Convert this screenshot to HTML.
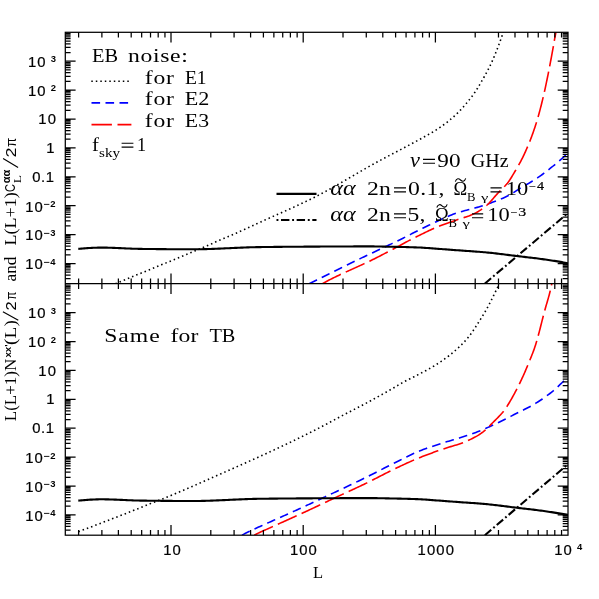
<!DOCTYPE html>
<html><head><meta charset="utf-8"><title>plot</title>
<style>html,body{margin:0;padding:0;background:#fff}svg{display:block}text{font-family:"Liberation Serif",serif;fill:#000}.s{font-family:"Liberation Sans",sans-serif}.tk{stroke:#000;stroke-width:0.22px}</style></head><body>
<svg width="599" height="599" viewBox="0 0 599 599">
<rect width="599" height="599" fill="#fff"/>
<defs><clipPath id="cu"><rect x="65.3" y="32.3" width="502.7" height="251.4"/></clipPath><clipPath id="cl"><rect x="65.3" y="283.7" width="502.7" height="251.5"/></clipPath></defs>
<g fill="none" stroke-linejoin="round" clip-path="url(#cu)">
<path d="M115.40 283.70L116.79 283.12L118.18 282.54L119.57 281.96L120.96 281.39L122.35 280.81L123.74 280.24L125.13 279.67L126.52 279.09L127.91 278.52L129.31 277.95L130.70 277.38L132.09 276.81L133.48 276.24L134.88 275.67L136.27 275.10L137.66 274.53L139.06 273.96L140.45 273.40L141.84 272.83L143.24 272.26L144.63 271.69L146.02 271.12L147.42 270.55L148.81 269.98L150.20 269.41L151.59 268.84L152.99 268.27L154.38 267.70L155.77 267.12L157.16 266.55L158.55 265.98L159.95 265.41L161.34 264.84L162.73 264.26L164.12 263.69L165.51 263.12L166.91 262.55L168.30 261.98L169.69 261.41L171.08 260.84L172.47 260.26L173.87 259.69L175.26 259.12L176.65 258.54L178.04 257.97L179.43 257.40L180.82 256.82L182.21 256.25L183.60 255.67L184.99 255.09L186.38 254.52L187.77 253.94L189.16 253.36L190.55 252.78L191.94 252.20L193.32 251.62L194.71 251.03L196.10 250.45L197.49 249.86L198.87 249.28L200.26 248.69L201.64 248.10L203.03 247.51L204.41 246.92L205.79 246.33L207.17 245.73L208.55 245.13L209.93 244.52L211.31 243.91L212.68 243.29L214.05 242.67L215.42 242.04L216.79 241.42L218.16 240.80L219.53 240.19L220.91 239.59L222.30 238.99L223.68 238.41L225.07 237.82L226.46 237.24L227.85 236.66L229.23 236.08L230.62 235.50L232.01 234.92L233.40 234.34L234.78 233.75L236.16 233.15L237.54 232.54L238.92 231.93L240.29 231.32L241.66 230.71L243.03 230.09L244.40 229.46L245.77 228.84L247.14 228.21L248.51 227.58L249.88 226.95L251.24 226.32L252.61 225.69L253.97 225.06L255.34 224.43L256.71 223.80L258.07 223.17L259.44 222.54L260.81 221.91L262.18 221.28L263.55 220.66L264.92 220.04L266.29 219.42L267.66 218.80L269.04 218.19L270.41 217.58L271.79 216.97L273.16 216.36L274.54 215.75L275.91 215.14L277.29 214.53L278.67 213.92L280.04 213.31L281.42 212.70L282.79 212.09L284.17 211.48L285.54 210.87L286.92 210.25L288.29 209.64L289.66 209.02L291.03 208.39L292.40 207.77L293.77 207.14L295.13 206.51L296.50 205.87L297.86 205.24L299.23 204.60L300.59 203.97L301.95 203.33L303.32 202.69L304.68 202.04L306.04 201.40L307.39 200.75L308.75 200.09L310.10 199.43L311.45 198.77L312.80 198.10L314.15 197.43L315.49 196.75L316.83 196.07L318.16 195.38L319.50 194.68L320.83 193.98L322.16 193.27L323.48 192.56L324.81 191.84L326.13 191.12L327.45 190.40L328.77 189.68L330.09 188.95L331.40 188.22L332.72 187.49L334.03 186.74L335.33 186.00L336.64 185.25L337.94 184.50L339.25 183.75L340.55 182.99L341.85 182.24L343.15 181.48L344.45 180.72L345.75 179.97L347.05 179.21L348.36 178.46L349.66 177.71L350.97 176.96L352.27 176.20L353.57 175.45L354.87 174.69L356.17 173.94L357.47 173.18L358.77 172.42L360.08 171.66L361.38 170.91L362.68 170.15L363.98 169.40L365.29 168.65L366.59 167.90L367.90 167.15L369.20 166.41L370.51 165.67L371.83 164.93L373.14 164.20L374.46 163.47L375.78 162.75L377.10 162.03L378.42 161.31L379.74 160.60L381.07 159.88L382.40 159.18L383.72 158.47L385.05 157.77L386.38 157.06L387.72 156.36L389.05 155.66L390.38 154.96L391.72 154.26L393.05 153.57L394.38 152.87L395.72 152.17L397.05 151.47L398.38 150.78L399.72 150.08L401.05 149.38L402.38 148.68L403.71 147.98L405.04 147.27L406.37 146.57L407.70 145.86L409.03 145.15L410.35 144.43L411.68 143.72L413.01 143.01L414.33 142.30L415.66 141.58L416.98 140.87L418.30 140.15L419.62 139.42L420.93 138.69L422.25 137.96L423.57 137.23L424.89 136.51L426.21 135.78L427.54 135.05L428.85 134.32L430.17 133.57L431.47 132.82L432.77 132.06L434.05 131.28L435.33 130.49L436.58 129.68L437.83 128.85L439.07 128.01L440.32 127.15L441.55 126.29L442.79 125.41L444.01 124.52L445.23 123.61L446.44 122.69L447.63 121.77L448.82 120.83L449.99 119.87L451.14 118.91L452.29 117.93L453.41 116.94L454.51 115.94L455.60 114.93L456.67 113.90L457.74 112.86L458.80 111.79L459.85 110.71L460.89 109.62L461.92 108.52L462.94 107.40L463.95 106.27L464.95 105.12L465.94 103.97L466.91 102.81L467.88 101.64L468.83 100.46L469.76 99.27L470.69 98.08L471.60 96.88L472.49 95.68L473.38 94.47L474.24 93.26L475.09 92.02L475.92 90.77L476.73 89.51L477.53 88.23L478.32 86.94L479.10 85.65L479.87 84.35L480.63 83.04L481.38 81.73L482.13 80.42L482.87 79.12L483.62 77.81L484.36 76.50L485.09 75.18L485.82 73.86L486.54 72.54L487.25 71.21L487.96 69.88L488.65 68.54L489.34 67.20L490.01 65.85L490.67 64.50L491.31 63.15L491.94 61.79L492.56 60.42L493.16 59.04L493.75 57.66L494.33 56.27L494.91 54.88L495.47 53.48L496.03 52.08L496.58 50.68L497.12 49.27L497.66 47.86L498.19 46.46L498.73 45.05L499.26 43.64L499.78 42.23L500.30 40.82L500.81 39.40L501.31 37.98L501.81 36.56L502.31 35.14L502.81 33.72L503.30 32.30" stroke="#000" stroke-width="1.6" stroke-dasharray="1.5 3.0"/>
<path d="M309.20 283.70L310.71 282.94L312.23 282.19L313.74 281.44L315.25 280.68L316.77 279.93L318.28 279.18L319.79 278.42L321.31 277.67L322.82 276.92L324.33 276.17L325.85 275.42L327.36 274.67L328.87 273.92L330.39 273.17L331.90 272.42L333.42 271.67L334.93 270.92L336.44 270.17L337.96 269.43L339.47 268.68L340.98 267.94L342.50 267.19L344.01 266.45L345.52 265.71L347.04 264.97L348.55 264.23L350.06 263.49L351.58 262.75L353.09 262.02L354.60 261.28L356.12 260.55L357.63 259.82L359.14 259.09L360.66 258.37L362.17 257.65L363.68 256.93L365.20 256.22L366.71 255.50L368.22 254.79L369.74 254.08L371.25 253.37L372.76 252.66L374.28 251.95L375.79 251.24L377.31 250.53L378.82 249.82L380.33 249.11L381.85 248.40L383.36 247.69L384.87 246.98L386.39 246.26L387.90 245.54L389.41 244.82L390.93 244.10L392.44 243.38L393.95 242.65L395.47 241.92L396.98 241.18L398.49 240.44L400.01 239.70L401.52 238.94L403.03 238.18L404.55 237.41L406.06 236.64L407.57 235.87L409.09 235.11L410.60 234.34L412.11 233.58L413.63 232.81L415.14 232.04L416.65 231.27L418.17 230.50L419.68 229.74L421.20 228.98L422.71 228.22L424.22 227.48L425.74 226.74L427.25 226.02L428.76 225.30L430.28 224.58L431.79 223.85L433.30 223.12L434.82 222.39L436.33 221.67L437.84 220.95L439.36 220.23L440.87 219.52L442.38 218.82L443.90 218.14L445.41 217.46L446.92 216.81L448.44 216.17L449.95 215.54L451.46 214.94L452.98 214.37L454.49 213.81L456.00 213.29L457.52 212.79L459.03 212.31L460.55 211.86L462.06 211.42L463.57 211.00L465.09 210.58L466.60 210.18L468.11 209.78L469.63 209.39L471.14 208.99L472.65 208.60L474.17 208.19L475.68 207.78L477.19 207.36L478.71 206.92L480.22 206.46L481.73 205.98L483.25 205.49L484.76 204.98L486.27 204.47L487.79 203.95L489.30 203.43L490.81 202.90L492.33 202.35L493.84 201.80L495.35 201.23L496.87 200.65L498.38 200.05L499.89 199.43L501.41 198.80L502.92 198.15L504.44 197.47L505.95 196.78L507.46 196.06L508.98 195.31L510.49 194.48L512.00 193.57L513.52 192.61L515.03 191.62L516.54 190.62L518.06 189.63L519.57 188.66L521.08 187.75L522.60 186.85L524.11 185.96L525.62 185.09L527.14 184.22L528.65 183.34L530.16 182.46L531.68 181.56L533.19 180.64L534.70 179.70L536.22 178.72L537.73 177.70L539.24 176.66L540.76 175.59L542.27 174.49L543.78 173.36L545.30 172.22L546.81 171.06L548.33 169.88L549.84 168.68L551.35 167.47L552.87 166.25L554.38 165.02L555.89 163.75L557.41 162.47L558.92 161.15L560.43 159.82L561.95 158.48L563.46 157.12L564.97 155.76L566.49 154.39L568.00 153.00" stroke="#0000ff" stroke-width="1.6" stroke-dasharray="8.7 5.3"/>
<path d="M322.50 283.70L323.79 282.92L325.11 282.19L326.43 281.48L327.76 280.77L329.09 280.08L330.43 279.39L331.77 278.71L333.12 278.04L334.47 277.37L335.83 276.71L337.19 276.06L338.55 275.41L339.91 274.77L341.28 274.13L342.65 273.49L344.02 272.86L345.39 272.24L346.77 271.61L348.14 270.99L349.52 270.36L350.90 269.74L352.27 269.12L353.65 268.50L355.03 267.88L356.41 267.26L357.78 266.64L359.16 266.02L360.54 265.39L361.91 264.76L363.28 264.13L364.65 263.50L366.02 262.86L367.39 262.22L368.75 261.57L370.11 260.91L371.46 260.26L372.82 259.59L374.17 258.92L375.51 258.24L376.86 257.56L378.20 256.87L379.54 256.18L380.88 255.49L382.22 254.80L383.56 254.10L384.90 253.40L386.23 252.70L387.57 252.00L388.90 251.30L390.23 250.59L391.57 249.88L392.90 249.18L394.23 248.47L395.56 247.76L396.89 247.05L398.23 246.34L399.56 245.64L400.89 244.93L402.22 244.21L403.54 243.49L404.87 242.77L406.19 242.05L407.52 241.34L408.85 240.63L410.19 239.94L411.53 239.24L412.88 238.56L414.22 237.88L415.57 237.20L416.92 236.53L418.27 235.86L419.63 235.20L420.98 234.53L422.34 233.87L423.69 233.20L425.05 232.54L426.41 231.88L427.77 231.22L429.13 230.58L430.50 229.94L431.87 229.31L433.24 228.69L434.62 228.08L436.00 227.49L437.39 226.91L438.79 226.35L440.19 225.80L441.60 225.26L443.01 224.73L444.43 224.21L445.85 223.69L447.27 223.18L448.69 222.68L450.11 222.17L451.53 221.67L452.96 221.16L454.38 220.66L455.80 220.15L457.23 219.66L458.68 219.19L460.13 218.73L461.58 218.28L463.03 217.83L464.48 217.37L465.93 216.90L467.36 216.43L468.78 215.93L470.18 215.40L471.57 214.85L472.93 214.26L474.27 213.63L475.60 212.95L476.93 212.23L478.24 211.46L479.54 210.65L480.82 209.81L482.08 208.94L483.31 208.05L484.51 207.14L485.68 206.21L486.82 205.26L487.91 204.26L488.98 203.22L490.01 202.13L491.03 201.01L492.03 199.87L493.02 198.71L494.01 197.55L495.00 196.39L496.00 195.24L497.01 194.12L498.04 193.01L499.09 191.93L500.16 190.85L501.23 189.77L502.30 188.70L503.37 187.62L504.42 186.53L505.45 185.43L506.45 184.30L507.41 183.16L508.33 181.99L509.21 180.78L510.05 179.54L510.86 178.27L511.65 176.98L512.43 175.67L513.20 174.36L513.96 173.06L514.74 171.77L515.51 170.47L516.29 169.18L517.06 167.88L517.82 166.57L518.57 165.26L519.31 163.95L520.03 162.63L520.74 161.30L521.43 159.96L522.11 158.62L522.78 157.27L523.44 155.91L524.09 154.54L524.73 153.18L525.35 151.80L525.97 150.43L526.58 149.05L527.19 147.66L527.78 146.28L528.36 144.89L528.94 143.50L529.51 142.10L530.06 140.69L530.61 139.29L531.15 137.88L531.68 136.47L532.20 135.05L532.71 133.63L533.22 132.21L533.71 130.79L534.21 129.36L534.69 127.93L535.17 126.50L535.63 125.06L536.09 123.63L536.54 122.19L536.98 120.74L537.41 119.30L537.83 117.85L538.24 116.40L538.65 114.95L539.05 113.50L539.45 112.04L539.84 110.59L540.22 109.13L540.60 107.67L540.98 106.20L541.35 104.74L541.71 103.28L542.07 101.81L542.43 100.35L542.78 98.88L543.13 97.41L543.48 95.95L543.82 94.48L544.15 93.01L544.48 91.54L544.81 90.06L545.13 88.59L545.45 87.12L545.77 85.64L546.08 84.16L546.39 82.69L546.69 81.21L547.00 79.73L547.30 78.25L547.60 76.78L547.90 75.30L548.20 73.82L548.49 72.34L548.78 70.86L549.07 69.38L549.36 67.90L549.65 66.42L549.93 64.94L550.21 63.46L550.49 61.97L550.76 60.49L551.04 59.01L551.32 57.53L551.59 56.04L551.86 54.56L552.13 53.08L552.41 51.59L552.68 50.11L552.95 48.63L553.22 47.14L553.48 45.66L553.74 44.17L554.00 42.68L554.26 41.20L554.52 39.71L554.79 38.23L555.06 36.74L555.33 35.26L555.61 33.78L555.90 32.30" stroke="#ff0000" stroke-width="1.6" stroke-dasharray="20.6 5.4"/>
<path d="M484.70 283.70L568.00 213.00" stroke="#000" stroke-width="2.1" stroke-dasharray="8.4 2.75 1.8 2.7"/>
<path d="M78.30 248.90L79.81 248.77L81.31 248.64L82.82 248.51L84.33 248.39L85.83 248.28L87.34 248.17L88.85 248.06L90.35 247.97L91.86 247.88L93.37 247.81L94.87 247.74L96.38 247.69L97.89 247.65L99.39 247.62L100.90 247.60L102.41 247.60L103.92 247.61L105.42 247.63L106.93 247.66L108.44 247.69L109.94 247.73L111.45 247.78L112.96 247.83L114.46 247.89L115.97 247.95L117.48 248.01L118.98 248.08L120.49 248.15L122.00 248.22L123.50 248.29L125.01 248.36L126.52 248.43L128.02 248.49L129.53 248.56L131.04 248.62L132.54 248.68L134.05 248.73L135.56 248.78L137.06 248.82L138.57 248.86L140.08 248.89L141.58 248.91L143.09 248.93L144.60 248.95L146.10 248.96L147.61 248.98L149.12 249.00L150.62 249.02L152.13 249.04L153.64 249.05L155.15 249.07L156.65 249.09L158.16 249.10L159.67 249.12L161.17 249.13L162.68 249.15L164.19 249.16L165.69 249.17L167.20 249.19L168.71 249.20L170.21 249.21L171.72 249.22L173.23 249.23L174.73 249.24L176.24 249.25L177.75 249.26L179.25 249.27L180.76 249.27L182.27 249.28L183.77 249.28L185.28 249.29L186.79 249.29L188.29 249.30L189.80 249.30L191.31 249.30L192.81 249.30L194.32 249.30L195.83 249.29L197.33 249.28L198.84 249.26L200.35 249.23L201.86 249.21L203.36 249.17L204.87 249.14L206.38 249.10L207.88 249.05L209.39 249.00L210.90 248.95L212.40 248.90L213.91 248.84L215.42 248.78L216.92 248.72L218.43 248.66L219.94 248.59L221.44 248.53L222.95 248.46L224.46 248.39L225.96 248.32L227.47 248.25L228.98 248.18L230.48 248.11L231.99 248.04L233.50 247.97L235.00 247.90L236.51 247.83L238.02 247.77L239.52 247.70L241.03 247.64L242.54 247.58L244.04 247.52L245.55 247.46L247.06 247.41L248.56 247.35L250.07 247.31L251.58 247.26L253.09 247.22L254.59 247.18L256.10 247.15L257.61 247.12L259.11 247.10L260.62 247.08L262.13 247.06L263.63 247.04L265.14 247.02L266.65 247.00L268.15 246.98L269.66 246.96L271.17 246.94L272.67 246.93L274.18 246.91L275.69 246.90L277.19 246.88L278.70 246.87L280.21 246.85L281.71 246.84L283.22 246.82L284.73 246.81L286.23 246.80L287.74 246.79L289.25 246.77L290.75 246.76L292.26 246.75L293.77 246.74L295.27 246.73L296.78 246.72L298.29 246.71L299.80 246.70L301.30 246.69L302.81 246.68L304.32 246.67L305.82 246.66L307.33 246.65L308.84 246.65L310.34 246.64L311.85 246.63L313.36 246.62L314.86 246.61L316.37 246.60L317.88 246.59L319.38 246.58L320.89 246.57L322.40 246.56L323.90 246.56L325.41 246.55L326.92 246.54L328.42 246.53L329.93 246.52L331.44 246.51L332.94 246.51L334.45 246.50L335.96 246.49L337.46 246.48L338.97 246.48L340.48 246.47L341.98 246.46L343.49 246.46L345.00 246.45L346.50 246.45L348.01 246.44L349.52 246.44L351.03 246.43L352.53 246.43L354.04 246.42L355.55 246.42L357.05 246.41L358.56 246.41L360.07 246.41L361.57 246.41L363.08 246.40L364.59 246.40L366.09 246.40L367.60 246.40L369.11 246.40L370.61 246.40L372.12 246.41L373.63 246.42L375.13 246.44L376.64 246.46L378.15 246.49L379.65 246.52L381.16 246.55L382.67 246.58L384.17 246.62L385.68 246.65L387.19 246.68L388.69 246.71L390.20 246.74L391.71 246.77L393.21 246.80L394.72 246.83L396.23 246.86L397.74 246.90L399.24 246.93L400.75 246.96L402.26 246.99L403.76 247.03L405.27 247.07L406.78 247.11L408.28 247.15L409.79 247.19L411.30 247.23L412.80 247.28L414.31 247.33L415.82 247.38L417.32 247.44L418.83 247.49L420.34 247.56L421.84 247.64L423.35 247.73L424.86 247.83L426.36 247.94L427.87 248.05L429.38 248.17L430.88 248.29L432.39 248.40L433.90 248.52L435.40 248.63L436.91 248.74L438.42 248.85L439.92 248.96L441.43 249.07L442.94 249.19L444.44 249.30L445.95 249.42L447.46 249.53L448.97 249.65L450.47 249.76L451.98 249.87L453.49 249.99L454.99 250.10L456.50 250.21L458.01 250.32L459.51 250.42L461.02 250.53L462.53 250.63L464.03 250.73L465.54 250.84L467.05 250.94L468.55 251.04L470.06 251.15L471.57 251.25L473.07 251.36L474.58 251.46L476.09 251.58L477.59 251.69L479.10 251.81L480.61 251.93L482.11 252.05L483.62 252.18L485.13 252.31L486.63 252.45L488.14 252.60L489.65 252.75L491.15 252.91L492.66 253.07L494.17 253.24L495.68 253.41L497.18 253.59L498.69 253.77L500.20 253.96L501.70 254.14L503.21 254.33L504.72 254.52L506.22 254.71L507.73 254.90L509.24 255.09L510.74 255.28L512.25 255.47L513.76 255.66L515.26 255.85L516.77 256.03L518.28 256.21L519.78 256.39L521.29 256.57L522.80 256.74L524.30 256.91L525.81 257.09L527.32 257.26L528.82 257.43L530.33 257.60L531.84 257.78L533.34 257.96L534.85 258.14L536.36 258.33L537.86 258.52L539.37 258.72L540.88 258.92L542.38 259.13L543.89 259.34L545.40 259.55L546.91 259.77L548.41 259.99L549.92 260.22L551.43 260.45L552.93 260.68L554.44 260.91L555.95 261.15L557.45 261.40L558.96 261.64L560.47 261.90L561.97 262.15L563.48 262.41L564.99 262.67L566.49 262.93L568.00 263.20" stroke="#000" stroke-width="2.1"/>
</g>
<g fill="none" stroke-linejoin="round" clip-path="url(#cl)">
<path d="M78.40 531.70L79.81 531.17L81.22 530.64L82.63 530.11L84.03 529.57L85.44 529.04L86.85 528.51L88.26 527.98L89.66 527.44L91.07 526.91L92.48 526.38L93.89 525.84L95.29 525.31L96.70 524.77L98.11 524.24L99.51 523.70L100.92 523.17L102.33 522.63L103.73 522.09L105.14 521.55L106.54 521.01L107.95 520.47L109.35 519.93L110.76 519.39L112.16 518.85L113.56 518.30L114.97 517.76L116.37 517.22L117.77 516.67L119.18 516.12L120.58 515.57L121.98 515.02L123.38 514.47L124.78 513.92L126.18 513.36L127.58 512.81L128.97 512.25L130.37 511.69L131.77 511.13L133.17 510.57L134.56 510.01L135.96 509.45L137.36 508.89L138.75 508.32L140.15 507.76L141.54 507.20L142.94 506.64L144.34 506.08L145.73 505.52L147.13 504.96L148.53 504.40L149.93 503.84L151.33 503.28L152.72 502.73L154.12 502.17L155.53 501.62L156.93 501.08L158.33 500.53L159.73 499.99L161.14 499.44L162.54 498.90L163.94 498.35L165.34 497.79L166.74 497.23L168.13 496.67L169.52 496.10L170.92 495.53L172.31 494.95L173.70 494.37L175.08 493.79L176.47 493.21L177.86 492.63L179.24 492.04L180.63 491.45L182.01 490.86L183.40 490.27L184.78 489.67L186.16 489.08L187.54 488.48L188.93 487.88L190.31 487.28L191.69 486.68L193.07 486.08L194.45 485.48L195.82 484.87L197.20 484.27L198.58 483.66L199.96 483.06L201.34 482.45L202.71 481.84L204.09 481.23L205.47 480.62L206.85 480.01L208.22 479.41L209.60 478.80L210.98 478.19L212.35 477.58L213.73 476.97L215.11 476.36L216.48 475.75L217.86 475.14L219.24 474.54L220.61 473.93L221.99 473.32L223.37 472.72L224.75 472.11L226.12 471.50L227.50 470.89L228.88 470.28L230.25 469.68L231.63 469.07L233.01 468.46L234.38 467.85L235.76 467.24L237.14 466.63L238.51 466.02L239.89 465.41L241.26 464.79L242.64 464.18L244.01 463.57L245.39 462.96L246.76 462.34L248.13 461.73L249.51 461.11L250.88 460.49L252.25 459.88L253.63 459.26L255.00 458.64L256.37 458.02L257.74 457.40L259.11 456.78L260.48 456.16L261.85 455.53L263.22 454.91L264.59 454.28L265.96 453.66L267.33 453.03L268.70 452.40L270.06 451.77L271.43 451.14L272.79 450.51L274.16 449.88L275.53 449.24L276.89 448.61L278.25 447.97L279.62 447.33L280.98 446.69L282.34 446.05L283.70 445.41L285.06 444.76L286.42 444.12L287.78 443.47L289.14 442.82L290.50 442.17L291.85 441.52L293.21 440.87L294.56 440.21L295.92 439.55L297.27 438.89L298.62 438.23L299.97 437.57L301.33 436.91L302.68 436.24L304.02 435.57L305.37 434.90L306.72 434.23L308.07 433.56L309.41 432.89L310.76 432.21L312.10 431.53L313.45 430.85L314.79 430.17L316.13 429.49L317.47 428.80L318.81 428.11L320.15 427.43L321.48 426.73L322.82 426.04L324.15 425.34L325.48 424.64L326.81 423.93L328.14 423.22L329.47 422.52L330.79 421.80L332.12 421.09L333.45 420.38L334.77 419.67L336.10 418.95L337.42 418.24L338.75 417.53L340.08 416.82L341.40 416.11L342.73 415.40L344.06 414.70L345.39 413.99L346.72 413.29L348.06 412.59L349.39 411.90L350.73 411.20L352.06 410.51L353.40 409.82L354.74 409.12L356.07 408.43L357.41 407.74L358.75 407.04L360.08 406.35L361.41 405.65L362.75 404.95L364.08 404.25L365.41 403.55L366.74 402.84L368.06 402.13L369.39 401.41L370.71 400.70L372.03 399.98L373.35 399.26L374.67 398.53L375.99 397.81L377.31 397.08L378.63 396.35L379.94 395.62L381.26 394.89L382.57 394.15L383.89 393.42L385.20 392.68L386.51 391.94L387.82 391.20L389.13 390.46L390.44 389.72L391.75 388.97L393.05 388.22L394.35 387.45L395.64 386.69L396.94 385.92L398.24 385.15L399.53 384.39L400.83 383.63L402.14 382.88L403.45 382.14L404.77 381.41L406.09 380.70L407.42 380.01L408.77 379.33L410.12 378.67L411.47 378.01L412.83 377.34L414.17 376.67L415.51 375.99L416.85 375.30L418.19 374.61L419.54 373.92L420.88 373.24L422.22 372.54L423.56 371.85L424.89 371.15L426.22 370.44L427.55 369.72L428.86 369.00L430.17 368.26L431.47 367.51L432.77 366.74L434.05 365.97L435.32 365.18L436.59 364.37L437.86 363.56L439.12 362.73L440.38 361.90L441.63 361.05L442.87 360.19L444.11 359.32L445.34 358.44L446.55 357.55L447.76 356.65L448.96 355.74L450.15 354.82L451.32 353.88L452.48 352.94L453.64 351.98L454.78 351.00L455.91 350.01L457.04 349.00L458.14 347.97L459.24 346.93L460.33 345.89L461.40 344.83L462.45 343.76L463.50 342.68L464.53 341.58L465.55 340.47L466.55 339.34L467.53 338.19L468.48 337.03L469.41 335.85L470.32 334.66L471.21 333.45L472.08 332.22L472.94 330.99L473.78 329.74L474.62 328.48L475.44 327.22L476.26 325.95L477.07 324.68L477.88 323.41L478.69 322.14L479.50 320.87L480.31 319.60L481.11 318.32L481.90 317.04L482.69 315.76L483.47 314.47L484.25 313.18L485.01 311.88L485.77 310.58L486.51 309.27L487.25 307.96L487.97 306.64L488.68 305.32L489.38 303.99L490.07 302.66L490.76 301.32L491.44 299.97L492.11 298.63L492.78 297.27L493.44 295.92L494.10 294.57L494.76 293.21L495.41 291.85L496.06 290.50L496.71 289.14L497.37 287.78L498.02 286.42L498.66 285.06L499.30 283.70" stroke="#000" stroke-width="1.6" stroke-dasharray="1.5 3.0"/>
<path d="M242.00 535.20L243.51 534.35L245.02 533.55L246.53 532.77L248.04 532.01L249.55 531.27L251.06 530.55L252.56 529.83L254.07 529.13L255.58 528.44L257.09 527.76L258.60 527.09L260.11 526.41L261.62 525.75L263.13 525.08L264.64 524.41L266.15 523.74L267.66 523.06L269.17 522.38L270.68 521.69L272.19 521.00L273.69 520.32L275.20 519.64L276.71 518.97L278.22 518.29L279.73 517.62L281.24 516.95L282.75 516.28L284.26 515.61L285.77 514.94L287.28 514.27L288.79 513.60L290.30 512.92L291.81 512.25L293.31 511.57L294.82 510.88L296.33 510.19L297.84 509.50L299.35 508.81L300.86 508.11L302.37 507.41L303.88 506.71L305.39 506.01L306.90 505.31L308.41 504.61L309.92 503.91L311.43 503.20L312.94 502.50L314.44 501.79L315.95 501.09L317.46 500.38L318.97 499.68L320.48 498.98L321.99 498.27L323.50 497.57L325.01 496.87L326.52 496.17L328.03 495.46L329.54 494.76L331.05 494.06L332.56 493.35L334.06 492.65L335.57 491.94L337.08 491.24L338.59 490.53L340.10 489.82L341.61 489.11L343.12 488.39L344.63 487.68L346.14 486.96L347.65 486.24L349.16 485.52L350.67 484.80L352.18 484.07L353.69 483.35L355.19 482.62L356.70 481.90L358.21 481.17L359.72 480.44L361.23 479.70L362.74 478.97L364.25 478.23L365.76 477.49L367.27 476.75L368.78 476.01L370.29 475.26L371.80 474.50L373.31 473.74L374.81 472.98L376.32 472.21L377.83 471.44L379.34 470.66L380.85 469.88L382.36 469.11L383.87 468.33L385.38 467.55L386.89 466.78L388.40 466.01L389.91 465.24L391.42 464.48L392.93 463.73L394.44 462.98L395.94 462.23L397.45 461.48L398.96 460.73L400.47 459.97L401.98 459.21L403.49 458.45L405.00 457.69L406.51 456.94L408.02 456.20L409.53 455.46L411.04 454.74L412.55 454.03L414.06 453.34L415.56 452.66L417.07 452.01L418.58 451.37L420.09 450.76L421.60 450.17L423.11 449.60L424.62 449.04L426.13 448.49L427.64 447.96L429.15 447.43L430.66 446.92L432.17 446.41L433.68 445.91L435.19 445.42L436.69 444.93L438.20 444.45L439.71 443.97L441.22 443.49L442.73 443.02L444.24 442.54L445.75 442.06L447.26 441.60L448.77 441.15L450.28 440.70L451.79 440.26L453.30 439.82L454.81 439.38L456.31 438.93L457.82 438.48L459.33 438.01L460.84 437.53L462.35 437.05L463.86 436.56L465.37 436.07L466.88 435.58L468.39 435.08L469.90 434.57L471.41 434.06L472.92 433.53L474.43 432.99L475.94 432.44L477.44 431.87L478.95 431.28L480.46 430.68L481.97 430.05L483.48 429.41L484.99 428.75L486.50 428.07L488.01 427.38L489.52 426.69L491.03 425.98L492.54 425.27L494.05 424.56L495.56 423.84L497.06 423.13L498.57 422.41L500.08 421.67L501.59 420.93L503.10 420.19L504.61 419.43L506.12 418.67L507.63 417.91L509.14 417.14L510.65 416.37L512.16 415.60L513.67 414.83L515.18 414.06L516.69 413.30L518.19 412.55L519.70 411.81L521.21 411.07L522.72 410.32L524.23 409.57L525.74 408.81L527.25 408.04L528.76 407.25L530.27 406.43L531.78 405.59L533.29 404.73L534.80 403.83L536.31 402.90L537.81 401.96L539.32 400.99L540.83 400.00L542.34 398.98L543.85 397.93L545.36 396.86L546.87 395.77L548.38 394.65L549.89 393.50L551.40 392.32L552.91 391.10L554.42 389.81L555.93 388.45L557.44 387.06L558.94 385.63L560.45 384.19L561.96 382.74L563.47 381.31L564.98 379.89L566.49 378.45L568.00 377.00" stroke="#0000ff" stroke-width="1.6" stroke-dasharray="8.7 5.3"/>
<path d="M254.30 535.20L255.62 534.47L256.96 533.79L258.31 533.13L259.67 532.48L261.04 531.84L262.41 531.21L263.79 530.60L265.17 529.98L266.55 529.37L267.93 528.75L269.30 528.14L270.68 527.51L272.05 526.88L273.42 526.26L274.79 525.63L276.16 525.01L277.54 524.38L278.91 523.76L280.29 523.14L281.66 522.52L283.04 521.90L284.41 521.29L285.79 520.67L287.16 520.05L288.54 519.43L289.91 518.81L291.29 518.19L292.66 517.57L294.04 516.95L295.41 516.33L296.78 515.71L298.16 515.09L299.53 514.46L300.90 513.83L302.27 513.21L303.64 512.57L305.01 511.94L306.38 511.31L307.74 510.67L309.11 510.03L310.47 509.39L311.84 508.75L313.20 508.11L314.57 507.47L315.93 506.82L317.29 506.18L318.66 505.53L320.02 504.89L321.38 504.24L322.74 503.60L324.11 502.95L325.47 502.30L326.83 501.66L328.19 501.01L329.56 500.37L330.92 499.72L332.28 499.08L333.65 498.43L335.01 497.79L336.38 497.15L337.74 496.51L339.11 495.87L340.48 495.24L341.85 494.60L343.21 493.97L344.58 493.34L345.95 492.71L347.32 492.08L348.69 491.45L350.06 490.82L351.43 490.19L352.80 489.55L354.17 488.92L355.54 488.29L356.91 487.65L358.27 487.01L359.64 486.37L361.00 485.73L362.36 485.08L363.72 484.43L365.08 483.78L366.44 483.13L367.80 482.47L369.15 481.80L370.50 481.12L371.84 480.45L373.19 479.76L374.53 479.08L375.87 478.39L377.21 477.69L378.55 477.00L379.89 476.31L381.23 475.61L382.57 474.92L383.91 474.23L385.25 473.54L386.60 472.85L387.94 472.17L389.29 471.49L390.64 470.82L391.99 470.15L393.34 469.49L394.70 468.84L396.06 468.20L397.43 467.55L398.79 466.91L400.15 466.27L401.52 465.63L402.89 464.99L404.26 464.35L405.63 463.72L407.00 463.10L408.38 462.48L409.76 461.86L411.13 461.25L412.52 460.64L413.90 460.04L415.29 459.45L416.67 458.86L418.07 458.29L419.46 457.72L420.86 457.16L422.26 456.60L423.66 456.05L425.07 455.51L426.47 454.97L427.89 454.44L429.30 453.91L430.71 453.39L432.13 452.88L433.55 452.36L434.97 451.86L436.40 451.35L437.82 450.85L439.25 450.36L440.67 449.87L442.10 449.38L443.53 448.90L444.96 448.41L446.39 447.95L447.83 447.50L449.27 447.06L450.72 446.63L452.17 446.20L453.62 445.77L455.07 445.34L456.51 444.91L457.95 444.46L459.38 443.99L460.81 443.50L462.22 442.99L463.62 442.45L465.02 441.88L466.41 441.28L467.78 440.66L469.15 440.02L470.51 439.37L471.87 438.71L473.22 438.03L474.56 437.33L475.89 436.60L477.19 435.86L478.48 435.08L479.74 434.26L480.98 433.41L482.21 432.52L483.41 431.60L484.59 430.65L485.73 429.68L486.84 428.67L487.91 427.61L488.96 426.53L490.01 425.43L491.06 424.34L492.13 423.28L493.20 422.22L494.28 421.16L495.35 420.10L496.42 419.04L497.48 417.96L498.52 416.88L499.56 415.78L500.60 414.68L501.62 413.57L502.62 412.43L503.57 411.27L504.47 410.08L505.34 408.85L506.19 407.60L507.01 406.33L507.82 405.05L508.61 403.76L509.39 402.47L510.17 401.18L510.93 399.88L511.68 398.58L512.42 397.26L513.15 395.94L513.87 394.61L514.58 393.28L515.29 391.95L515.99 390.62L516.69 389.28L517.38 387.94L518.06 386.59L518.74 385.24L519.40 383.89L520.07 382.54L520.72 381.18L521.37 379.81L522.00 378.45L522.63 377.08L523.26 375.71L523.87 374.33L524.48 372.95L525.09 371.57L525.68 370.18L526.28 368.80L526.86 367.41L527.45 366.02L528.02 364.62L528.59 363.23L529.17 361.83L529.74 360.44L530.31 359.04L530.88 357.64L531.45 356.24L532.00 354.83L532.55 353.43L533.09 352.02L533.61 350.60L534.12 349.19L534.61 347.76L535.09 346.34L535.55 344.91L535.99 343.47L536.43 342.03L536.85 340.59L537.27 339.14L537.68 337.70L538.08 336.24L538.47 334.79L538.86 333.33L539.25 331.87L539.63 330.41L540.00 328.95L540.37 327.49L540.74 326.02L541.11 324.56L541.48 323.09L541.85 321.63L542.22 320.16L542.59 318.70L542.96 317.23L543.34 315.77L543.72 314.31L544.11 312.85L544.50 311.40L544.90 309.94L545.31 308.49L545.72 307.04L546.14 305.59L546.56 304.14L546.99 302.69L547.41 301.24L547.83 299.80L548.25 298.35L548.65 296.89L549.06 295.44L549.44 293.98L549.82 292.53L550.18 291.06L550.53 289.60L550.86 288.13L551.19 286.65L551.50 285.18L551.80 283.70" stroke="#ff0000" stroke-width="1.6" stroke-dasharray="20.6 5.4"/>
<path d="M484.85 535.20L568.00 464.20" stroke="#000" stroke-width="2.1" stroke-dasharray="8.4 2.75 1.8 2.7"/>
<path d="M78.30 500.60L79.81 500.47L81.31 500.34L82.82 500.21L84.33 500.09L85.83 499.98L87.34 499.87L88.85 499.76L90.35 499.67L91.86 499.58L93.37 499.51L94.87 499.44L96.38 499.39L97.89 499.35L99.39 499.32L100.90 499.30L102.41 499.30L103.92 499.31L105.42 499.33L106.93 499.36L108.44 499.39L109.94 499.43L111.45 499.48L112.96 499.53L114.46 499.59L115.97 499.65L117.48 499.71L118.98 499.78L120.49 499.85L122.00 499.92L123.50 499.99L125.01 500.06L126.52 500.13L128.02 500.19L129.53 500.26L131.04 500.32L132.54 500.38L134.05 500.43L135.56 500.48L137.06 500.52L138.57 500.56L140.08 500.59L141.58 500.61L143.09 500.63L144.60 500.65L146.10 500.66L147.61 500.68L149.12 500.70L150.62 500.72L152.13 500.74L153.64 500.75L155.15 500.77L156.65 500.79L158.16 500.80L159.67 500.82L161.17 500.83L162.68 500.85L164.19 500.86L165.69 500.87L167.20 500.89L168.71 500.90L170.21 500.91L171.72 500.92L173.23 500.93L174.73 500.94L176.24 500.95L177.75 500.96L179.25 500.97L180.76 500.97L182.27 500.98L183.77 500.98L185.28 500.99L186.79 500.99L188.29 501.00L189.80 501.00L191.31 501.00L192.81 501.00L194.32 501.00L195.83 500.99L197.33 500.98L198.84 500.96L200.35 500.93L201.86 500.91L203.36 500.87L204.87 500.84L206.38 500.80L207.88 500.75L209.39 500.70L210.90 500.65L212.40 500.60L213.91 500.54L215.42 500.48L216.92 500.42L218.43 500.36L219.94 500.29L221.44 500.23L222.95 500.16L224.46 500.09L225.96 500.02L227.47 499.95L228.98 499.88L230.48 499.81L231.99 499.74L233.50 499.67L235.00 499.60L236.51 499.53L238.02 499.47L239.52 499.40L241.03 499.34L242.54 499.28L244.04 499.22L245.55 499.16L247.06 499.11L248.56 499.05L250.07 499.01L251.58 498.96L253.09 498.92L254.59 498.88L256.10 498.85L257.61 498.82L259.11 498.80L260.62 498.78L262.13 498.76L263.63 498.74L265.14 498.72L266.65 498.70L268.15 498.68L269.66 498.66L271.17 498.64L272.67 498.63L274.18 498.61L275.69 498.60L277.19 498.58L278.70 498.57L280.21 498.55L281.71 498.54L283.22 498.52L284.73 498.51L286.23 498.50L287.74 498.49L289.25 498.47L290.75 498.46L292.26 498.45L293.77 498.44L295.27 498.43L296.78 498.42L298.29 498.41L299.80 498.40L301.30 498.39L302.81 498.38L304.32 498.37L305.82 498.36L307.33 498.35L308.84 498.35L310.34 498.34L311.85 498.33L313.36 498.32L314.86 498.31L316.37 498.30L317.88 498.29L319.38 498.28L320.89 498.27L322.40 498.26L323.90 498.26L325.41 498.25L326.92 498.24L328.42 498.23L329.93 498.22L331.44 498.21L332.94 498.21L334.45 498.20L335.96 498.19L337.46 498.18L338.97 498.18L340.48 498.17L341.98 498.16L343.49 498.16L345.00 498.15L346.50 498.15L348.01 498.14L349.52 498.14L351.03 498.13L352.53 498.13L354.04 498.12L355.55 498.12L357.05 498.11L358.56 498.11L360.07 498.11L361.57 498.11L363.08 498.10L364.59 498.10L366.09 498.10L367.60 498.10L369.11 498.10L370.61 498.10L372.12 498.11L373.63 498.12L375.13 498.14L376.64 498.16L378.15 498.19L379.65 498.22L381.16 498.25L382.67 498.28L384.17 498.32L385.68 498.35L387.19 498.38L388.69 498.41L390.20 498.44L391.71 498.47L393.21 498.50L394.72 498.53L396.23 498.56L397.74 498.60L399.24 498.63L400.75 498.66L402.26 498.69L403.76 498.73L405.27 498.77L406.78 498.81L408.28 498.85L409.79 498.89L411.30 498.93L412.80 498.98L414.31 499.03L415.82 499.08L417.32 499.14L418.83 499.19L420.34 499.26L421.84 499.34L423.35 499.43L424.86 499.53L426.36 499.64L427.87 499.75L429.38 499.87L430.88 499.99L432.39 500.10L433.90 500.22L435.40 500.33L436.91 500.44L438.42 500.55L439.92 500.66L441.43 500.77L442.94 500.89L444.44 501.00L445.95 501.12L447.46 501.23L448.97 501.35L450.47 501.46L451.98 501.57L453.49 501.69L454.99 501.80L456.50 501.91L458.01 502.02L459.51 502.12L461.02 502.23L462.53 502.33L464.03 502.43L465.54 502.54L467.05 502.64L468.55 502.74L470.06 502.85L471.57 502.95L473.07 503.06L474.58 503.16L476.09 503.28L477.59 503.39L479.10 503.51L480.61 503.63L482.11 503.75L483.62 503.88L485.13 504.01L486.63 504.15L488.14 504.30L489.65 504.45L491.15 504.61L492.66 504.77L494.17 504.94L495.68 505.11L497.18 505.29L498.69 505.47L500.20 505.66L501.70 505.84L503.21 506.03L504.72 506.22L506.22 506.41L507.73 506.60L509.24 506.79L510.74 506.98L512.25 507.17L513.76 507.36L515.26 507.55L516.77 507.73L518.28 507.91L519.78 508.09L521.29 508.27L522.80 508.44L524.30 508.61L525.81 508.79L527.32 508.96L528.82 509.13L530.33 509.30L531.84 509.48L533.34 509.66L534.85 509.84L536.36 510.03L537.86 510.22L539.37 510.42L540.88 510.62L542.38 510.83L543.89 511.04L545.40 511.25L546.91 511.47L548.41 511.69L549.92 511.92L551.43 512.15L552.93 512.38L554.44 512.61L555.95 512.85L557.45 513.10L558.96 513.34L560.47 513.60L561.97 513.85L563.48 514.11L564.99 514.37L566.49 514.63L568.00 514.90" stroke="#000" stroke-width="2.1"/>
</g>
<g fill="none" stroke="#000" stroke-width="1.25">
<rect x="65.30" y="32.30" width="502.70" height="502.90"/>
<path d="M65.30 283.70H568.00"/>
<path d="M78.60 32.30L78.60 37.60M78.60 278.40L78.60 289.00M78.60 535.20L78.60 529.90M101.88 32.30L101.88 37.60M101.88 278.40L101.88 289.00M101.88 535.20L101.88 529.90M118.39 32.30L118.39 37.60M118.39 278.40L118.39 289.00M118.39 535.20L118.39 529.90M131.20 32.30L131.20 37.60M131.20 278.40L131.20 289.00M131.20 535.20L131.20 529.90M141.67 32.30L141.67 37.60M141.67 278.40L141.67 289.00M141.67 535.20L141.67 529.90M150.52 32.30L150.52 37.60M150.52 278.40L150.52 289.00M150.52 535.20L150.52 529.90M158.19 32.30L158.19 37.60M158.19 278.40L158.19 289.00M158.19 535.20L158.19 529.90M164.95 32.30L164.95 37.60M164.95 278.40L164.95 289.00M164.95 535.20L164.95 529.90M171.00 32.30L171.00 42.60M171.00 273.40L171.00 294.00M171.00 535.20L171.00 524.90M210.80 32.30L210.80 37.60M210.80 278.40L210.80 289.00M210.80 535.20L210.80 529.90M234.08 32.30L234.08 37.60M234.08 278.40L234.08 289.00M234.08 535.20L234.08 529.90M250.59 32.30L250.59 37.60M250.59 278.40L250.59 289.00M250.59 535.20L250.59 529.90M263.40 32.30L263.40 37.60M263.40 278.40L263.40 289.00M263.40 535.20L263.40 529.90M273.87 32.30L273.87 37.60M273.87 278.40L273.87 289.00M273.87 535.20L273.87 529.90M282.72 32.30L282.72 37.60M282.72 278.40L282.72 289.00M282.72 535.20L282.72 529.90M290.39 32.30L290.39 37.60M290.39 278.40L290.39 289.00M290.39 535.20L290.39 529.90M297.15 32.30L297.15 37.60M297.15 278.40L297.15 289.00M297.15 535.20L297.15 529.90M303.20 32.30L303.20 42.60M303.20 273.40L303.20 294.00M303.20 535.20L303.20 524.90M343.00 32.30L343.00 37.60M343.00 278.40L343.00 289.00M343.00 535.20L343.00 529.90M366.28 32.30L366.28 37.60M366.28 278.40L366.28 289.00M366.28 535.20L366.28 529.90M382.79 32.30L382.79 37.60M382.79 278.40L382.79 289.00M382.79 535.20L382.79 529.90M395.60 32.30L395.60 37.60M395.60 278.40L395.60 289.00M395.60 535.20L395.60 529.90M406.07 32.30L406.07 37.60M406.07 278.40L406.07 289.00M406.07 535.20L406.07 529.90M414.92 32.30L414.92 37.60M414.92 278.40L414.92 289.00M414.92 535.20L414.92 529.90M422.59 32.30L422.59 37.60M422.59 278.40L422.59 289.00M422.59 535.20L422.59 529.90M429.35 32.30L429.35 37.60M429.35 278.40L429.35 289.00M429.35 535.20L429.35 529.90M435.40 32.30L435.40 42.60M435.40 273.40L435.40 294.00M435.40 535.20L435.40 524.90M475.20 32.30L475.20 37.60M475.20 278.40L475.20 289.00M475.20 535.20L475.20 529.90M498.48 32.30L498.48 37.60M498.48 278.40L498.48 289.00M498.48 535.20L498.48 529.90M514.99 32.30L514.99 37.60M514.99 278.40L514.99 289.00M514.99 535.20L514.99 529.90M527.80 32.30L527.80 37.60M527.80 278.40L527.80 289.00M527.80 535.20L527.80 529.90M538.27 32.30L538.27 37.60M538.27 278.40L538.27 289.00M538.27 535.20L538.27 529.90M547.12 32.30L547.12 37.60M547.12 278.40L547.12 289.00M547.12 535.20L547.12 529.90M554.79 32.30L554.79 37.60M554.79 278.40L554.79 289.00M554.79 535.20L554.79 529.90M561.55 32.30L561.55 37.60M561.55 278.40L561.55 289.00M561.55 535.20L561.55 529.90M65.30 278.61L70.60 278.61M568.00 278.61L562.70 278.61M65.30 275.00L70.60 275.00M568.00 275.00L562.70 275.00M65.30 272.20L70.60 272.20M568.00 272.20L562.70 272.20M65.30 269.91L70.60 269.91M568.00 269.91L562.70 269.91M65.30 267.98L70.60 267.98M568.00 267.98L562.70 267.98M65.30 266.30L70.60 266.30M568.00 266.30L562.70 266.30M65.30 264.82L70.60 264.82M568.00 264.82L562.70 264.82M65.30 263.50L75.60 263.50M568.00 263.50L557.70 263.50M65.30 254.80L70.60 254.80M568.00 254.80L562.70 254.80M65.30 249.71L70.60 249.71M568.00 249.71L562.70 249.71M65.30 246.10L70.60 246.10M568.00 246.10L562.70 246.10M65.30 243.30L70.60 243.30M568.00 243.30L562.70 243.30M65.30 241.01L70.60 241.01M568.00 241.01L562.70 241.01M65.30 239.08L70.60 239.08M568.00 239.08L562.70 239.08M65.30 237.40L70.60 237.40M568.00 237.40L562.70 237.40M65.30 235.92L70.60 235.92M568.00 235.92L562.70 235.92M65.30 234.60L75.60 234.60M568.00 234.60L557.70 234.60M65.30 225.90L70.60 225.90M568.00 225.90L562.70 225.90M65.30 220.81L70.60 220.81M568.00 220.81L562.70 220.81M65.30 217.20L70.60 217.20M568.00 217.20L562.70 217.20M65.30 214.40L70.60 214.40M568.00 214.40L562.70 214.40M65.30 212.11L70.60 212.11M568.00 212.11L562.70 212.11M65.30 210.18L70.60 210.18M568.00 210.18L562.70 210.18M65.30 208.50L70.60 208.50M568.00 208.50L562.70 208.50M65.30 207.02L70.60 207.02M568.00 207.02L562.70 207.02M65.30 205.70L75.60 205.70M568.00 205.70L557.70 205.70M65.30 197.00L70.60 197.00M568.00 197.00L562.70 197.00M65.30 191.91L70.60 191.91M568.00 191.91L562.70 191.91M65.30 188.30L70.60 188.30M568.00 188.30L562.70 188.30M65.30 185.50L70.60 185.50M568.00 185.50L562.70 185.50M65.30 183.21L70.60 183.21M568.00 183.21L562.70 183.21M65.30 181.28L70.60 181.28M568.00 181.28L562.70 181.28M65.30 179.60L70.60 179.60M568.00 179.60L562.70 179.60M65.30 178.12L70.60 178.12M568.00 178.12L562.70 178.12M65.30 176.80L75.60 176.80M568.00 176.80L557.70 176.80M65.30 168.10L70.60 168.10M568.00 168.10L562.70 168.10M65.30 163.01L70.60 163.01M568.00 163.01L562.70 163.01M65.30 159.40L70.60 159.40M568.00 159.40L562.70 159.40M65.30 156.60L70.60 156.60M568.00 156.60L562.70 156.60M65.30 154.31L70.60 154.31M568.00 154.31L562.70 154.31M65.30 152.38L70.60 152.38M568.00 152.38L562.70 152.38M65.30 150.70L70.60 150.70M568.00 150.70L562.70 150.70M65.30 149.22L70.60 149.22M568.00 149.22L562.70 149.22M65.30 147.90L75.60 147.90M568.00 147.90L557.70 147.90M65.30 139.20L70.60 139.20M568.00 139.20L562.70 139.20M65.30 134.11L70.60 134.11M568.00 134.11L562.70 134.11M65.30 130.50L70.60 130.50M568.00 130.50L562.70 130.50M65.30 127.70L70.60 127.70M568.00 127.70L562.70 127.70M65.30 125.41L70.60 125.41M568.00 125.41L562.70 125.41M65.30 123.48L70.60 123.48M568.00 123.48L562.70 123.48M65.30 121.80L70.60 121.80M568.00 121.80L562.70 121.80M65.30 120.32L70.60 120.32M568.00 120.32L562.70 120.32M65.30 119.00L75.60 119.00M568.00 119.00L557.70 119.00M65.30 110.30L70.60 110.30M568.00 110.30L562.70 110.30M65.30 105.21L70.60 105.21M568.00 105.21L562.70 105.21M65.30 101.60L70.60 101.60M568.00 101.60L562.70 101.60M65.30 98.80L70.60 98.80M568.00 98.80L562.70 98.80M65.30 96.51L70.60 96.51M568.00 96.51L562.70 96.51M65.30 94.58L70.60 94.58M568.00 94.58L562.70 94.58M65.30 92.90L70.60 92.90M568.00 92.90L562.70 92.90M65.30 91.42L70.60 91.42M568.00 91.42L562.70 91.42M65.30 90.10L75.60 90.10M568.00 90.10L557.70 90.10M65.30 81.40L70.60 81.40M568.00 81.40L562.70 81.40M65.30 76.31L70.60 76.31M568.00 76.31L562.70 76.31M65.30 72.70L70.60 72.70M568.00 72.70L562.70 72.70M65.30 69.90L70.60 69.90M568.00 69.90L562.70 69.90M65.30 67.61L70.60 67.61M568.00 67.61L562.70 67.61M65.30 65.68L70.60 65.68M568.00 65.68L562.70 65.68M65.30 64.00L70.60 64.00M568.00 64.00L562.70 64.00M65.30 62.52L70.60 62.52M568.00 62.52L562.70 62.52M65.30 61.20L75.60 61.20M568.00 61.20L557.70 61.20M65.30 52.50L70.60 52.50M568.00 52.50L562.70 52.50M65.30 47.41L70.60 47.41M568.00 47.41L562.70 47.41M65.30 43.80L70.60 43.80M568.00 43.80L562.70 43.80M65.30 41.00L70.60 41.00M568.00 41.00L562.70 41.00M65.30 38.71L70.60 38.71M568.00 38.71L562.70 38.71M65.30 36.78L70.60 36.78M568.00 36.78L562.70 36.78M65.30 35.10L70.60 35.10M568.00 35.10L562.70 35.10M65.30 33.62L70.60 33.62M568.00 33.62L562.70 33.62M65.30 530.01L70.60 530.01M568.00 530.01L562.70 530.01M65.30 526.40L70.60 526.40M568.00 526.40L562.70 526.40M65.30 523.60L70.60 523.60M568.00 523.60L562.70 523.60M65.30 521.31L70.60 521.31M568.00 521.31L562.70 521.31M65.30 519.38L70.60 519.38M568.00 519.38L562.70 519.38M65.30 517.70L70.60 517.70M568.00 517.70L562.70 517.70M65.30 516.22L70.60 516.22M568.00 516.22L562.70 516.22M65.30 514.90L75.60 514.90M568.00 514.90L557.70 514.90M65.30 506.20L70.60 506.20M568.00 506.20L562.70 506.20M65.30 501.11L70.60 501.11M568.00 501.11L562.70 501.11M65.30 497.50L70.60 497.50M568.00 497.50L562.70 497.50M65.30 494.70L70.60 494.70M568.00 494.70L562.70 494.70M65.30 492.41L70.60 492.41M568.00 492.41L562.70 492.41M65.30 490.48L70.60 490.48M568.00 490.48L562.70 490.48M65.30 488.80L70.60 488.80M568.00 488.80L562.70 488.80M65.30 487.32L70.60 487.32M568.00 487.32L562.70 487.32M65.30 486.00L75.60 486.00M568.00 486.00L557.70 486.00M65.30 477.30L70.60 477.30M568.00 477.30L562.70 477.30M65.30 472.21L70.60 472.21M568.00 472.21L562.70 472.21M65.30 468.60L70.60 468.60M568.00 468.60L562.70 468.60M65.30 465.80L70.60 465.80M568.00 465.80L562.70 465.80M65.30 463.51L70.60 463.51M568.00 463.51L562.70 463.51M65.30 461.58L70.60 461.58M568.00 461.58L562.70 461.58M65.30 459.90L70.60 459.90M568.00 459.90L562.70 459.90M65.30 458.42L70.60 458.42M568.00 458.42L562.70 458.42M65.30 457.10L75.60 457.10M568.00 457.10L557.70 457.10M65.30 448.40L70.60 448.40M568.00 448.40L562.70 448.40M65.30 443.31L70.60 443.31M568.00 443.31L562.70 443.31M65.30 439.70L70.60 439.70M568.00 439.70L562.70 439.70M65.30 436.90L70.60 436.90M568.00 436.90L562.70 436.90M65.30 434.61L70.60 434.61M568.00 434.61L562.70 434.61M65.30 432.68L70.60 432.68M568.00 432.68L562.70 432.68M65.30 431.00L70.60 431.00M568.00 431.00L562.70 431.00M65.30 429.52L70.60 429.52M568.00 429.52L562.70 429.52M65.30 428.20L75.60 428.20M568.00 428.20L557.70 428.20M65.30 419.50L70.60 419.50M568.00 419.50L562.70 419.50M65.30 414.41L70.60 414.41M568.00 414.41L562.70 414.41M65.30 410.80L70.60 410.80M568.00 410.80L562.70 410.80M65.30 408.00L70.60 408.00M568.00 408.00L562.70 408.00M65.30 405.71L70.60 405.71M568.00 405.71L562.70 405.71M65.30 403.78L70.60 403.78M568.00 403.78L562.70 403.78M65.30 402.10L70.60 402.10M568.00 402.10L562.70 402.10M65.30 400.62L70.60 400.62M568.00 400.62L562.70 400.62M65.30 399.30L75.60 399.30M568.00 399.30L557.70 399.30M65.30 390.60L70.60 390.60M568.00 390.60L562.70 390.60M65.30 385.51L70.60 385.51M568.00 385.51L562.70 385.51M65.30 381.90L70.60 381.90M568.00 381.90L562.70 381.90M65.30 379.10L70.60 379.10M568.00 379.10L562.70 379.10M65.30 376.81L70.60 376.81M568.00 376.81L562.70 376.81M65.30 374.88L70.60 374.88M568.00 374.88L562.70 374.88M65.30 373.20L70.60 373.20M568.00 373.20L562.70 373.20M65.30 371.72L70.60 371.72M568.00 371.72L562.70 371.72M65.30 370.40L75.60 370.40M568.00 370.40L557.70 370.40M65.30 361.70L70.60 361.70M568.00 361.70L562.70 361.70M65.30 356.61L70.60 356.61M568.00 356.61L562.70 356.61M65.30 353.00L70.60 353.00M568.00 353.00L562.70 353.00M65.30 350.20L70.60 350.20M568.00 350.20L562.70 350.20M65.30 347.91L70.60 347.91M568.00 347.91L562.70 347.91M65.30 345.98L70.60 345.98M568.00 345.98L562.70 345.98M65.30 344.30L70.60 344.30M568.00 344.30L562.70 344.30M65.30 342.82L70.60 342.82M568.00 342.82L562.70 342.82M65.30 341.50L75.60 341.50M568.00 341.50L557.70 341.50M65.30 332.80L70.60 332.80M568.00 332.80L562.70 332.80M65.30 327.71L70.60 327.71M568.00 327.71L562.70 327.71M65.30 324.10L70.60 324.10M568.00 324.10L562.70 324.10M65.30 321.30L70.60 321.30M568.00 321.30L562.70 321.30M65.30 319.01L70.60 319.01M568.00 319.01L562.70 319.01M65.30 317.08L70.60 317.08M568.00 317.08L562.70 317.08M65.30 315.40L70.60 315.40M568.00 315.40L562.70 315.40M65.30 313.92L70.60 313.92M568.00 313.92L562.70 313.92M65.30 312.60L75.60 312.60M568.00 312.60L557.70 312.60M65.30 303.90L70.60 303.90M568.00 303.90L562.70 303.90M65.30 298.81L70.60 298.81M568.00 298.81L562.70 298.81M65.30 295.20L70.60 295.20M568.00 295.20L562.70 295.20M65.30 292.40L70.60 292.40M568.00 292.40L562.70 292.40M65.30 290.11L70.60 290.11M568.00 290.11L562.70 290.11M65.30 288.18L70.60 288.18M568.00 288.18L562.70 288.18M65.30 286.50L70.60 286.50M568.00 286.50L562.70 286.50M65.30 285.02L70.60 285.02M568.00 285.02L562.70 285.02"/>
</g>
<g fill="none">
<path d="M91.3 81.2H130" stroke="#000" stroke-width="1.6" stroke-dasharray="1.5 3.0"/>
<path d="M91.5 102.9H128.3" stroke="#0000ff" stroke-width="1.6" stroke-dasharray="8.6 5.4"/>
<path d="M91.5 124.6H131.4" stroke="#ff0000" stroke-width="1.6" stroke-dasharray="20.4 5.6"/>
<path d="M276.5 193.8H316.5" stroke="#000" stroke-width="2.2"/>
<path d="M276.5 220H316.5" stroke="#000" stroke-width="2.2" stroke-dasharray="1.9 2.6 8.4 2.75"/>
</g>
<g opacity="0.999">
<text transform="translate(28.00 67.00) scale(1.060 1)" font-size="14.00" letter-spacing="1.04" class="s tk" >10</text>
<text transform="translate(50.70 62.40) scale(1.100 1)" font-size="8.60" class="s" font-weight="bold">3</text>
<text transform="translate(28.00 95.90) scale(1.060 1)" font-size="14.00" letter-spacing="1.04" class="s tk" >10</text>
<text transform="translate(50.70 91.30) scale(1.100 1)" font-size="8.60" class="s" font-weight="bold">2</text>
<text transform="translate(38.30 124.10) scale(1.060 1)" font-size="14.00" letter-spacing="1.04" class="s tk" >10</text>
<text transform="translate(46.30 153.00) scale(1.060 1)" font-size="14.00" class="s tk" >1</text>
<text transform="translate(32.20 181.90) scale(1.060 1)" font-size="14.00" letter-spacing="0.57" class="s tk" >0.1</text>
<text transform="translate(25.20 211.50) scale(1.060 1)" font-size="14.00" letter-spacing="1.04" class="s tk" >10</text>
<text transform="translate(43.20 207.10) scale(1.250 1)" font-size="8.60" class="s" font-weight="bold">&#8722;</text>
<text transform="translate(50.20 207.10) scale(1.100 1)" font-size="8.60" class="s" font-weight="bold">2</text>
<text transform="translate(25.20 240.40) scale(1.060 1)" font-size="14.00" letter-spacing="1.04" class="s tk" >10</text>
<text transform="translate(43.20 236.00) scale(1.250 1)" font-size="8.60" class="s" font-weight="bold">&#8722;</text>
<text transform="translate(50.20 236.00) scale(1.100 1)" font-size="8.60" class="s" font-weight="bold">3</text>
<text transform="translate(25.20 269.30) scale(1.060 1)" font-size="14.00" letter-spacing="1.04" class="s tk" >10</text>
<text transform="translate(43.20 264.90) scale(1.250 1)" font-size="8.60" class="s" font-weight="bold">&#8722;</text>
<text transform="translate(50.20 264.90) scale(1.100 1)" font-size="8.60" class="s" font-weight="bold">4</text>
<text transform="translate(28.00 318.40) scale(1.060 1)" font-size="14.00" letter-spacing="1.04" class="s tk" >10</text>
<text transform="translate(50.70 313.80) scale(1.100 1)" font-size="8.60" class="s" font-weight="bold">3</text>
<text transform="translate(28.00 347.30) scale(1.060 1)" font-size="14.00" letter-spacing="1.04" class="s tk" >10</text>
<text transform="translate(50.70 342.70) scale(1.100 1)" font-size="8.60" class="s" font-weight="bold">2</text>
<text transform="translate(38.30 375.50) scale(1.060 1)" font-size="14.00" letter-spacing="1.04" class="s tk" >10</text>
<text transform="translate(46.30 404.40) scale(1.060 1)" font-size="14.00" class="s tk" >1</text>
<text transform="translate(32.20 433.30) scale(1.060 1)" font-size="14.00" letter-spacing="0.57" class="s tk" >0.1</text>
<text transform="translate(25.20 462.90) scale(1.060 1)" font-size="14.00" letter-spacing="1.04" class="s tk" >10</text>
<text transform="translate(43.20 458.50) scale(1.250 1)" font-size="8.60" class="s" font-weight="bold">&#8722;</text>
<text transform="translate(50.20 458.50) scale(1.100 1)" font-size="8.60" class="s" font-weight="bold">2</text>
<text transform="translate(25.20 491.80) scale(1.060 1)" font-size="14.00" letter-spacing="1.04" class="s tk" >10</text>
<text transform="translate(43.20 487.40) scale(1.250 1)" font-size="8.60" class="s" font-weight="bold">&#8722;</text>
<text transform="translate(50.20 487.40) scale(1.100 1)" font-size="8.60" class="s" font-weight="bold">3</text>
<text transform="translate(25.20 520.70) scale(1.060 1)" font-size="14.00" letter-spacing="1.04" class="s tk" >10</text>
<text transform="translate(43.20 516.30) scale(1.250 1)" font-size="8.60" class="s" font-weight="bold">&#8722;</text>
<text transform="translate(50.20 516.30) scale(1.100 1)" font-size="8.60" class="s" font-weight="bold">4</text>
<text transform="translate(163.20 554.70) scale(1.060 1)" font-size="14.00" letter-spacing="1.04" class="s tk" >10</text>
<text transform="translate(289.90 554.70) scale(1.060 1)" font-size="14.00" letter-spacing="1.04" class="s tk" >100</text>
<text transform="translate(417.60 554.70) scale(1.060 1)" font-size="14.00" letter-spacing="1.04" class="s tk" >1000</text>
<text transform="translate(554.20 554.70) scale(1.060 1)" font-size="14.00" letter-spacing="1.04" class="s tk" >10</text>
<text transform="translate(577.00 550.10) scale(1.100 1)" font-size="8.60" class="s" font-weight="bold">4</text>
<text transform="translate(313.00 578.30) scale(1.050 1)" font-size="15.80" >L</text>
<g transform="translate(15.9 421) rotate(-90)">
<text transform="translate(-0.21 0.00) scale(1.075 1)" font-size="15.80" letter-spacing="0.00" >L(L+1)N</text>
<text transform="translate(63.40 -5.10) scale(1.081 1)" font-size="9.00" letter-spacing="-0.00" class="s" font-weight="bold">xx'</text>
<text transform="translate(75.93 0.00) scale(1.220 1)" font-size="15.80" letter-spacing="0.19" >(L)</text>
<path d="M100.7 2.4L109.3 -13M253.4 2.2L262.6 -12.8" stroke="#000" stroke-width="1.15" fill="none"/>
<text transform="translate(110.38 0.00) scale(1.063 1)" font-size="15.50" class="s" >2</text>
<text transform="translate(121.22 0.00) scale(0.793 1)" font-size="15.00" class="s" >&#960;</text>
<text transform="translate(139.60 0.00) scale(1.090 1)" font-size="15.80" letter-spacing="0.00" >and</text>
<text transform="translate(175.46 0.00) scale(1.143 1)" font-size="15.80" letter-spacing="0.00" >L(L+1)</text>
<text transform="translate(228.95 -0.50) scale(0.735 1)" font-size="15.00" class="s" >C</text>
<text transform="translate(237.80 4.80) scale(1.270 1)" font-size="10.60" >L</text>
<text transform="translate(237.76 -5.60) scale(1.049 1)" font-size="10.50" letter-spacing="0.00" class="s" font-weight="bold">&#945;&#945;</text>
<text transform="translate(263.40 0.00) scale(1.163 1)" font-size="15.50" class="s" >2</text>
<text transform="translate(274.06 0.00) scale(0.893 1)" font-size="15.00" class="s" >&#960;</text>
</g>
<text transform="translate(91.99 61.50) scale(1.052 1)" font-size="19.40" letter-spacing="0.00" >EB</text>
<text transform="translate(127.93 61.50) scale(1.220 1)" font-size="19.40" letter-spacing="0.56" >noise:</text>
<text transform="translate(144.69 84.40) scale(1.220 1)" font-size="19.40" letter-spacing="0.68" >for</text>
<text transform="translate(184.91 84.40) scale(1.006 1)" font-size="19.40" letter-spacing="0.00" >E1</text>
<text transform="translate(144.69 104.60) scale(1.220 1)" font-size="19.40" letter-spacing="0.68" >for</text>
<text transform="translate(184.84 104.60) scale(1.142 1)" font-size="19.40" letter-spacing="0.00" >E2</text>
<text transform="translate(144.69 127.40) scale(1.220 1)" font-size="19.40" letter-spacing="0.68" >for</text>
<text transform="translate(184.85 127.40) scale(1.125 1)" font-size="19.40" letter-spacing="0.00" >E3</text>
<text transform="translate(91.98 150.60) scale(1.065 1)" font-size="19.40" >f</text>
<text transform="translate(99.10 156.60) scale(1.179 1)" font-size="12.80" letter-spacing="0.00" >sky</text>
<path d="M121.60 143.20H133.40M121.60 147.10H133.40" stroke="#000" stroke-width="1.15" fill="none"/>
<text transform="translate(136.94 150.60) scale(0.944 1)" font-size="19.40" >1</text>
<text transform="translate(104.26 341.60) scale(1.220 1)" font-size="19.40" letter-spacing="0.77" >Same</text>
<text transform="translate(170.59 341.60) scale(1.220 1)" font-size="19.40" letter-spacing="0.06" >for</text>
<text transform="translate(209.39 341.60) scale(1.048 1)" font-size="19.40" letter-spacing="0.00" >TB</text>
<text transform="translate(410.07 166.70) scale(1.063 1)" font-size="21.00" font-style="italic">&#957;</text>
<path d="M423.00 159.30H435.00M423.00 163.20H435.00" stroke="#000" stroke-width="1.15" fill="none"/>
<text transform="translate(437.30 166.70) scale(1.197 1)" font-size="19.40" letter-spacing="0.00" >90</text>
<text transform="translate(470.80 166.70) scale(1.031 1)" font-size="19.40" letter-spacing="0.00" >GHz</text>
<text transform="translate(330.28 195.30) scale(1.123 1)" font-size="21.50" letter-spacing="0.00" font-style="italic">&#945;&#945;</text>
<text transform="translate(366.93 195.30) scale(1.220 1)" font-size="19.40" letter-spacing="0.29" >2n</text>
<path d="M394.00 187.90H406.00M394.00 191.80H406.00" stroke="#000" stroke-width="1.15" fill="none"/>
<text transform="translate(408.05 195.30) scale(1.220 1)" font-size="19.40" letter-spacing="0.27" >0.1,</text>
<text transform="translate(453.58 195.30) scale(0.950 1)" font-size="19.40" >&#937;</text>
<path d="M455.30 181.60C456.55 177.80 458.94 178.40 460.50 180.00S464.45 182.20 465.70 178.40" fill="none" stroke="#000" stroke-width="1.1"/>
<text transform="translate(467.12 200.90) scale(1.077 1)" font-size="11.80" >B</text>
<text transform="translate(481.00 200.90) scale(1.515 1)" font-size="11.00" >&#947;</text>
<path d="M490.50 187.90H501.70M490.50 191.80H501.70" stroke="#000" stroke-width="1.15" fill="none"/>
<text transform="translate(505.70 195.30) scale(1.155 1)" font-size="19.40" letter-spacing="0.00" >10</text>
<text transform="translate(529.00 189.80) scale(1.047 1)" font-size="11.50" class="tk" >&#8722;</text>
<text transform="translate(537.12 190.20) scale(1.234 1)" font-size="11.50" class="tk" >4</text>
<text transform="translate(330.28 221.20) scale(1.123 1)" font-size="21.50" letter-spacing="0.00" font-style="italic">&#945;&#945;</text>
<text transform="translate(366.93 221.20) scale(1.220 1)" font-size="19.40" letter-spacing="0.29" >2n</text>
<path d="M394.00 213.80H406.00M394.00 217.70H406.00" stroke="#000" stroke-width="1.15" fill="none"/>
<text transform="translate(407.58 221.20) scale(1.220 1)" font-size="19.40" letter-spacing="0.17" >5,</text>
<text transform="translate(435.08 221.20) scale(0.950 1)" font-size="19.40" >&#937;</text>
<path d="M436.80 207.50C438.05 203.70 440.44 204.30 442.00 205.90S445.95 208.10 447.20 204.30" fill="none" stroke="#000" stroke-width="1.1"/>
<text transform="translate(448.62 226.80) scale(1.077 1)" font-size="11.80" >B</text>
<text transform="translate(462.50 226.80) scale(1.515 1)" font-size="11.00" >&#947;</text>
<path d="M472.00 213.80H483.20M472.00 217.70H483.20" stroke="#000" stroke-width="1.15" fill="none"/>
<text transform="translate(487.20 221.20) scale(1.155 1)" font-size="19.40" letter-spacing="0.00" >10</text>
<text transform="translate(510.50 215.70) scale(1.047 1)" font-size="11.50" class="tk" >&#8722;</text>
<text transform="translate(518.18 216.10) scale(1.383 1)" font-size="11.50" class="tk" >3</text>
</g>
</svg></body></html>
